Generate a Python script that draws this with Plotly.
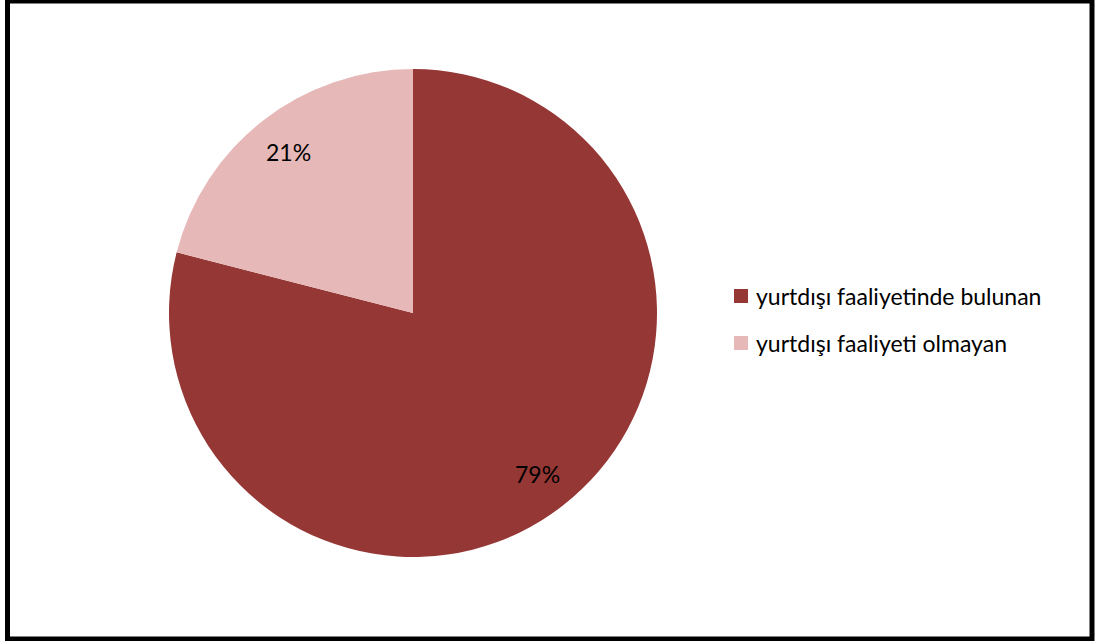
import math
import plotly.graph_objects as go

labels = ["yurtdışı faaliyetinde bulunan", "yurtdışı faaliyeti olmayan"]
values = [79, 21]
colors = ["#953735", "#E6B9B8"]

W, H = 1096, 641
FONT = "Lato"

# pie geometry (pixels)
CX, CY, R = 413, 313, 244

fig = go.Figure()
fig.add_trace(go.Pie(
    labels=labels, values=values, sort=False, direction="clockwise", rotation=0,
    marker=dict(colors=colors, line=dict(width=0)),
    textinfo="none",
    domain=dict(x=[(CX - R) / W, (CX + R) / W], y=[(H - CY - R) / H, (H - CY + R) / H]),
    showlegend=False, hoverinfo="label+percent",
))

shapes = [dict(type="rect", xref="paper", yref="paper",
               x0=7.5 / W, x1=1092 / W, y0=2 / H, y1=1 - 1 / H,
               line=dict(color="black", width=5), fillcolor="rgba(0,0,0,0)")]
annotations = []

# percentage labels placed along each slice bisector
total = sum(values)
cum = 0
for v in values:
    mid = (cum + v / 2) / total * 2 * math.pi
    cum += v
    px = CX + 0.835 * R * math.sin(mid)
    py = CY - 0.835 * R * math.cos(mid)
    annotations.append(dict(xref="paper", yref="paper", x=px / W, y=(H - py) / H,
                            xanchor="center", yanchor="middle",
                            text=f"{round(v / total * 100)}%", showarrow=False,
                            font=dict(family=FONT, size=23, color="black")))

ys = [296, 343]
for lab, col, yc in zip(labels, colors, ys):
    shapes.append(dict(type="rect", xref="paper", yref="paper",
                       x0=734 / W, x1=748 / W,
                       y0=(H - yc - 7) / H, y1=(H - yc + 7) / H,
                       fillcolor=col, line=dict(width=0)))
    annotations.append(dict(xref="paper", yref="paper", x=754 / W, y=(H - yc) / H,
                            xanchor="left", yanchor="middle", text=lab, showarrow=False,
                            font=dict(family=FONT, size=23, color="black")))

fig.update_layout(
    width=W, height=H, margin=dict(l=0, r=0, t=0, b=0),
    paper_bgcolor="white", plot_bgcolor="white",
    shapes=shapes, annotations=annotations,
)
fig.write_html("out.html", config={"displayModeBar": False},
               post_script="document.body.style.margin='0';")
